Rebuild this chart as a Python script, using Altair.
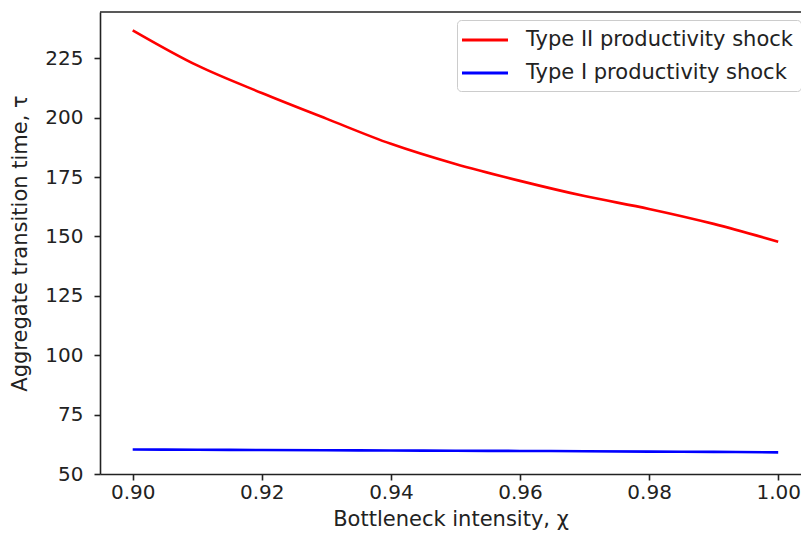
import altair as alt
import pandas as pd

chi = [0.90, 0.91, 0.92, 0.93, 0.94, 0.95, 0.96, 0.97, 0.98, 0.99, 1.00]
type2 = [236.8, 222.0, 210.4, 199.6, 189.0, 180.5, 173.4, 167.0, 161.6, 155.3, 147.8]
type1 = [60.3, 60.2, 60.1, 60.0, 59.9, 59.8, 59.7, 59.6, 59.4, 59.3, 59.1]
series_names = ["Type II productivity shock", "Type I productivity shock"]
series_colors = ["#ff0000", "#0000ff"]
y_ticks = [50, 75, 100, 125, 150, 175, 200, 225]
x_ticks = [0.90, 0.92, 0.94, 0.96, 0.98, 1.00]

rows = []
for x, a, b in zip(chi, type2, type1):
    rows.append({"chi": x, "tau": a, "series": series_names[0]})
    rows.append({"chi": x, "tau": b, "series": series_names[1]})
df = pd.DataFrame(rows)

W, H = 701, 462
FONT = "DejaVu Sans"
TICK_FS = 20
TITLE_FS = 21

lines = alt.Chart(df).mark_line(strokeWidth=2.6, interpolate="monotone", clip=True).encode(
    x=alt.X("chi:Q",
            scale=alt.Scale(domain=[0.894934, 1.003533], nice=False, zero=False),
            axis=alt.Axis(values=x_ticks, format=".2f", title="Bottleneck intensity, χ",
                          grid=False, tickSize=6, labelPadding=2,
                          titleY=51, titleBaseline="alphabetic")),
    y=alt.Y("tau:Q",
            scale=alt.Scale(domain=[50, 244.5], nice=False, zero=False),
            axis=alt.Axis(values=y_ticks, title="Aggregate transition time, τ",
                          grid=False, tickSize=6, labelPadding=11, titlePadding=14)),
    color=alt.Color("series:N",
                    scale=alt.Scale(domain=series_names, range=series_colors),
                    legend=alt.Legend(title=None, orient="none", legendX=357, legendY=8,
                                      symbolType="M-1.4286,0H2.952", symbolSize=441,
                                      symbolStrokeWidth=3, labelOffset=37,
                                      rowPadding=11, padding=8,
                                      fillColor="white", strokeColor="#cccccc",
                                      cornerRadius=4, labelFontSize=TITLE_FS,
                                      labelFont=FONT, labelColor="#222222",
                                      labelLimit=400)),
    detail="series:N",
)

top_spine = alt.Chart(alt.Data(values=[{}])).mark_rule(color="#222222", strokeWidth=1.6).encode(
    x=alt.value(0), x2=alt.value(W), y=alt.value(0)
)

chart = alt.layer(lines, top_spine).properties(
    width=W, height=H,
    autosize=alt.AutoSizeParams(type="none"),
    padding={"left": 92, "top": 4, "right": 0, "bottom": 56},
).configure_view(stroke=None).configure_axis(
    domainColor="#222222", domainWidth=1.6, tickColor="#222222", tickWidth=1.6,
    labelFont=FONT, labelFontSize=TICK_FS, labelColor="#222222",
    titleFont=FONT, titleFontSize=TITLE_FS, titleColor="#222222", titleFontWeight="normal",
).configure_axisY(labelBaseline="middle")

chart.save("out.html", embed_options={"renderer": "svg", "actions": False})
